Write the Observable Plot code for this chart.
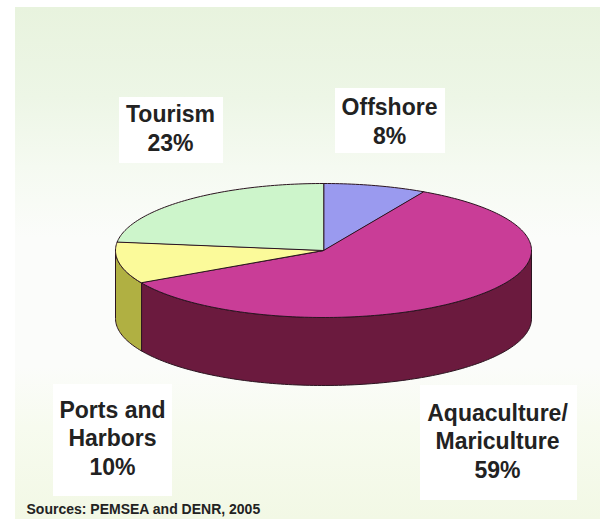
<!DOCTYPE html>
<html>
<head>
<meta charset="utf-8">
<script src="https://cdn.jsdelivr.net/npm/d3@7"></script>
<script src="https://cdn.jsdelivr.net/npm/@observablehq/plot@0.6"></script>
<style>
  html, body { margin: 0; padding: 0; background: #ffffff; overflow: hidden; }
  #wrap { position: relative; width: 606px; height: 519px; }
  #bg { position: absolute; left: 15px; top: 7px; width: 585px; height: 512px;
        background: linear-gradient(to bottom, #e8f3de 0px, #edf6e6 90px, #f5faf1 160px, #fbfcfa 230px, #fbfcfa 360px, #f7fbef 420px, #f2f8e5 512px); }
  #chart { position: absolute; left: 0; top: 0; }
</style>
</head>
<body>
<div id="wrap"><div id="bg"></div><div id="chart"></div></div>
<script>
// ---- data ----
const categories = ["Offshore", "Aquaculture/\nMariculture", "Ports and\nHarbors", "Tourism"];
const shares = [8, 59, 10, 23];
const topColors = ["#9a9aef", "#c93d97", "#fbfa9a", "#cdf5cb"];
const sideColors = ["#5e5e9a", "#6b1a3e", "#b0b042", "#7fa07f"];
const source = "Sources: PEMSEA and DENR, 2005";

// ---- layout (pixels) ----
const W = 606, H = 519;
const cx = 323, cy = 250, rx = 208, ry = 67, depth = 68;
const labelBoxes = [ // x1, y1, x2, y2 for each category
  [335, 88, 445, 153],
  [420, 385, 577, 500],
  [53, 384, 172, 496],
  [119, 97, 223, 163]
];
const labelCenters = [[389, 120], [497, 440], [112, 437], [170, 127]];

const arcs = d3.pie().sort(null).value(d => d)(shares);
const px = a => cx + rx * Math.sin(a);
const py = a => cy - ry * Math.cos(a);

const topPts = [];
const sidePts = [];
arcs.forEach((arc, i) => {
  const a0 = arc.startAngle, a1 = arc.endAngle;
  const n = Math.max(8, Math.ceil((a1 - a0) / 0.02));
  topPts.push({key: i, x: cx, y: cy, color: topColors[i]});
  for (let k = 0; k <= n; k++) {
    const a = a0 + (a1 - a0) * k / n;
    topPts.push({key: i, x: px(a), y: py(a), color: topColors[i]});
  }
  const s0 = Math.max(a0, Math.PI / 2), s1 = Math.min(a1, 3 * Math.PI / 2);
  if (s1 > s0) {
    const m = Math.max(8, Math.ceil((s1 - s0) / 0.02));
    for (let k = 0; k <= m; k++) {
      const a = s0 + (s1 - s0) * k / m;
      sidePts.push({key: i, x: px(a), y: py(a), color: sideColors[i]});
    }
    for (let k = m; k >= 0; k--) {
      const a = s0 + (s1 - s0) * k / m;
      sidePts.push({key: i, x: px(a), y: py(a) + depth, color: sideColors[i]});
    }
  }
});

const labels = categories.map((c, i) => ({
  text: c + "\n" + shares[i] + "%",
  x: labelCenters[i][0], y: labelCenters[i][1],
  x1: labelBoxes[i][0], y1: labelBoxes[i][1], x2: labelBoxes[i][2], y2: labelBoxes[i][3]
}));

const chart = Plot.plot({
  width: W, height: H,
  margin: 0,
  style: {background: "transparent", overflow: "hidden"},
  x: {domain: [0, W], range: [0, W], axis: null},
  y: {domain: [0, H], range: [0, H], axis: null},
  color: {type: "identity"},
  marks: [
    Plot.line(sidePts, {x: "x", y: "y", z: "key", fill: "color", stroke: "#2b1420", strokeWidth: 1, curve: "linear-closed"}),
    Plot.line(topPts, {x: "x", y: "y", z: "key", fill: "color", stroke: "#2b1420", strokeWidth: 1, strokeLinejoin: "round", curve: "linear-closed"}),
    Plot.rect(labels, {x1: "x1", x2: "x2", y1: "y1", y2: "y2", fill: "#ffffff"}),
    Plot.text(labels, {x: "x", y: "y", text: "text", fontSize: 23, fontWeight: "bold", lineHeight: 1.22, fill: "#222222", fontFamily: "Liberation Sans, Arial, sans-serif"}),
    Plot.text([source], {x: () => 26, y: () => 504, text: d => d, textAnchor: "start", lineAnchor: "top", fontSize: 14, fontWeight: "bold", fill: "#222222", fontFamily: "Liberation Sans, Arial, sans-serif"})
  ]
});
document.getElementById("chart").appendChild(chart);
</script>
</body>
</html>
